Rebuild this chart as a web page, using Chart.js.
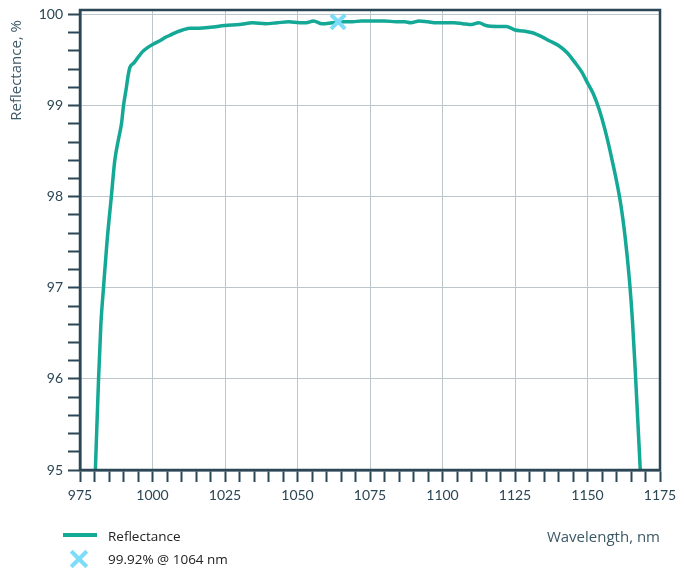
<!DOCTYPE html>
<html>
<head>
<meta charset="utf-8">
<title>Reflectance</title>
<script src="https://cdn.jsdelivr.net/npm/chart.js@4.4.1/dist/chart.umd.min.js"></script>
<style>
  body { margin: 0; background: #fff; }
  #wrap { position: relative; width: 684px; height: 583px; }
  .leg { position: absolute; font-family: "Open Sans", sans-serif; font-size: 13.5px; color: #222; line-height: 18px; white-space: nowrap; }
  .swatch { position: absolute; left: 63px; top: 533px; width: 34px; height: 4px; background: #14a896; }
  .bar { position: absolute; width: 22px; height: 4px; background: #7ddcf8; left: 68px; top: 557px; }
</style>
</head>
<body>
<div id="wrap">
  <canvas id="myChart"></canvas>
  <div class="swatch"></div>
  <div class="leg" style="left:108px;top:527px">Reflectance</div>
  <div class="bar" style="transform:rotate(45deg)"></div>
  <div class="bar" style="transform:rotate(-45deg)"></div>
  <div class="leg" style="left:108px;top:550px">99.92% @ 1064 nm</div>
</div>
<script>
var wavelength = [980.3, 981.4, 982.2, 983.1, 984.3, 985.8, 987.0, 988.2, 989.3, 990.0,
  990.9, 991.7, 992.2, 993.6, 995.0, 996.5, 998.4, 1000.5, 1002.4, 1004.5,
  1006.5, 1008.5, 1010.4, 1013, 1016, 1020, 1025, 1030, 1034.5, 1039,
  1043, 1047, 1050.7, 1053, 1055.5, 1058.5, 1062, 1066, 1069, 1072,
  1076, 1080, 1084, 1087, 1089, 1092, 1095, 1098, 1101, 1104,
  1107, 1110, 1112.5, 1115, 1119, 1122, 1125, 1128, 1131, 1134,
  1137, 1140, 1143, 1145.5, 1148, 1150, 1152, 1154, 1156, 1158.5,
  1161.3, 1163, 1164.5, 1165.5, 1166.4, 1167.3, 1168.2]
var reflectance = [95.0, 96.0, 96.6, 97.0, 97.5, 98.0, 98.4, 98.62, 98.8, 99.0,
  99.18, 99.35, 99.42, 99.47, 99.53, 99.59, 99.64, 99.68, 99.71, 99.75,
  99.78, 99.81, 99.83, 99.85, 99.85, 99.86, 99.88, 99.89, 99.91, 99.90,
  99.91, 99.92, 99.91, 99.91, 99.93, 99.90, 99.91, 99.92, 99.92, 99.93,
  99.93, 99.93, 99.92, 99.92, 99.91, 99.93, 99.92, 99.91, 99.91, 99.91,
  99.90, 99.89, 99.91, 99.88, 99.87, 99.87, 99.83, 99.82, 99.80, 99.76,
  99.71, 99.66, 99.58, 99.48, 99.37, 99.25, 99.13, 98.96, 98.74, 98.40,
  97.95, 97.55, 97.07, 96.64, 96.13, 95.57, 95.0]

var peakX = [1064]
var peakY = [99.92]

var xMin = 975, xMax = 1175, xStep = 5, xLabelEvery = 25
var yMin = 95, yMax = 100.05, yStep = 0.2

var dark = '#2b4654'
var gridCol = '#bcc7cb'

var curve = wavelength.map(function (w, i) { return { x: w, y: reflectance[i] } })
var peak = peakX.map(function (w, i) { return { x: w, y: peakY[i] } })

// box round the plot area, and the y title set near the top
var frame = {
  id: 'frame',
  afterDraw: function (chart) {
    var a = chart.chartArea, c = chart.ctx
    c.save()
    c.strokeStyle = dark
    c.lineWidth = 2.5
    c.strokeRect(a.left, a.top, a.right - a.left, a.bottom - a.top)
    c.translate(17, a.top + 10)
    c.rotate(-Math.PI / 2)
    c.font = '15px "Open Sans"'
    c.fillStyle = '#3d5866'
    c.textAlign = 'right'
    c.textBaseline = 'middle'
    c.fillText('Reflectance, %', 0, 0)
    c.restore()
  }
}

function isMajorX(v) { return Math.abs(v % xLabelEvery) < 1e-6 }
function isMajorY(v) { return Math.abs(v - Math.round(v)) < 1e-6 }

var ctx = document.getElementById('myChart').getContext('2d')
var chart = new Chart(ctx, {
  type: 'scatter',
  data: {
    datasets: [{
      label: '99.92% @ 1064 nm',
      data: peak,
      pointStyle: 'crossRot',
      pointRadius: 10,
      pointBorderWidth: 4,
      borderColor: '#7ddcf8',
      backgroundColor: '#7ddcf8',
      order: 0
    }, {
      label: 'Reflectance',
      data: curve,
      showLine: true,
      borderColor: '#14a896',
      borderWidth: 3.5,
      pointRadius: 0,
      cubicInterpolationMode: 'monotone',
      order: 1
    }]
  },
  options: {
    responsive: true,
    maintainAspectRatio: false,
    animation: false,
    events: [],
    layout: { autoPadding: false, padding: { top: 10, right: 24, left: 0, bottom: 0 } },
    plugins: { legend: { display: false }, tooltip: { enabled: false } },
    scales: {
      x: {
        type: 'linear',
        min: xMin, max: xMax,
        afterFit: function (s) { s.height = 113 },
        border: { color: dark, width: 2.5 },
        grid: {
          color: function (c) { return c.tick && isMajorX(c.tick.value) ? gridCol : 'rgba(0,0,0,0)' },
          tickColor: dark,
          tickLength: 12,
          tickWidth: 2
        },
        ticks: {
          stepSize: xStep,
          autoSkip: false,
          maxRotation: 0,
          padding: 5,
          color: dark,
          font: { family: 'Lato', size: 14 },
          callback: function (v) { return isMajorX(v) ? v : '' }
        },
        title: {
          display: true,
          text: 'Wavelength, nm',
          align: 'end',
          color: '#3d5866',
          font: { family: 'Open Sans', size: 15 },
          padding: { top: 0, bottom: 36 }
        }
      },
      y: {
        min: yMin, max: yMax,
        bounds: 'data',
        afterFit: function (s) { s.width = 80; s.paddingTop = 0; s.paddingBottom = 0 },
        border: { color: dark, width: 2.5 },
        grid: {
          color: function (c) { return c.tick && isMajorY(c.tick.value) ? gridCol : 'rgba(0,0,0,0)' },
          tickColor: dark,
          tickLength: 12,
          tickWidth: 2
        },
        ticks: {
          stepSize: yStep,
          includeBounds: false,
          autoSkip: false,
          padding: 5,
          color: dark,
          font: { family: 'Lato', size: 14 },
          callback: function (v) { return isMajorY(v) ? Math.round(v) : '' }
        }
      }
    }
  },
  plugins: [frame]
})
</script>
</body>
</html>
